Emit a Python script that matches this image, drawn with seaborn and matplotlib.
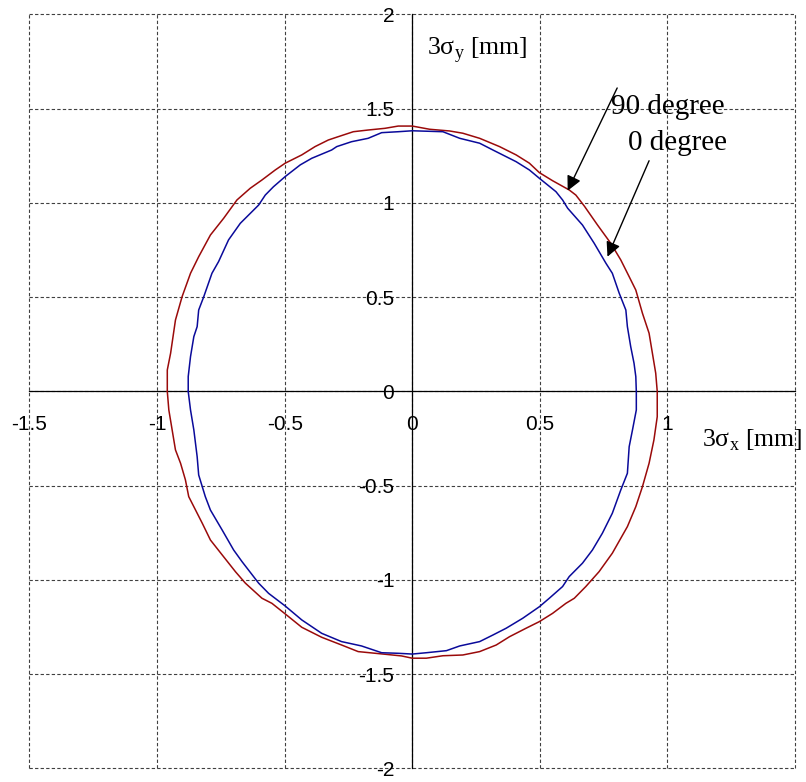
import numpy as np
import pandas as pd
import matplotlib
matplotlib.use("Agg")
import matplotlib.pyplot as plt
import seaborn as sns

# --------------------- Data ---------------------

# 90 degree curve (outer, dark red)
red_x = [-0.960, -0.960, -0.947, -0.928, -0.902, -0.869, -0.837, -0.791, -0.739, -0.687,
         -0.635, -0.589, -0.537, -0.498, -0.433, -0.381, -0.329, -0.296, -0.231, -0.173,
         -0.107, -0.055, 0.000,
         0.068, 0.146, 0.198, 0.264, 0.342, 0.407, 0.459, 0.498, 0.550, 0.615,
         0.641, 0.674, 0.726, 0.778, 0.817, 0.850, 0.876, 0.902, 0.928, 0.941,
         0.954, 0.960,
         0.960, 0.947, 0.928, 0.902, 0.876, 0.843, 0.784, 0.732, 0.680, 0.635,
         0.602, 0.550, 0.498, 0.446, 0.381, 0.329, 0.264, 0.198, 0.120, 0.055, 0.000,
         -0.042, -0.107, -0.212, -0.277, -0.355, -0.433, -0.498, -0.550, -0.589, -0.654,
         -0.693, -0.745, -0.791, -0.823, -0.876, -0.889, -0.908, -0.928, -0.941, -0.954,
         -0.960]
red_y = [0.000, 0.114, 0.203, 0.379, 0.503, 0.627, 0.715, 0.830, 0.919, 1.016,
         1.078, 1.122, 1.175, 1.211, 1.255, 1.299, 1.334, 1.349, 1.378, 1.387,
         1.396, 1.408, 1.408,
         1.391, 1.382, 1.370, 1.343, 1.299, 1.255, 1.211, 1.161, 1.118, 1.069,
         1.042, 0.984, 0.883, 0.786, 0.698, 0.609, 0.538, 0.415, 0.309, 0.203,
         0.097, 0.000,
         -0.134, -0.257, -0.381, -0.505, -0.611, -0.717, -0.858, -0.956, -1.035, -1.097,
         -1.124, -1.177, -1.221, -1.256, -1.301, -1.345, -1.380, -1.398, -1.402, -1.415, -1.415,
         -1.403, -1.394, -1.380, -1.345, -1.304, -1.251, -1.180, -1.124, -1.097, -1.017,
         -0.956, -0.867, -0.788, -0.699, -0.558, -0.469, -0.381, -0.310, -0.204, -0.098,
         0.000]

# 0 degree curve (inner, navy)
blue_x = [-0.878, -0.878, -0.869, -0.856, -0.843, -0.837, -0.817, -0.785, -0.759, -0.720,
          -0.674, -0.602, -0.576, -0.544, -0.498, -0.439, -0.394, -0.316, -0.296, -0.238,
          -0.173, -0.120, -0.055, 0.000,
          0.120, 0.186, 0.264, 0.316, 0.407, 0.459, 0.498, 0.563, 0.589, 0.609,
          0.667, 0.713, 0.759, 0.784, 0.811, 0.837, 0.843, 0.856, 0.869, 0.876, 0.878,
          0.878, 0.863, 0.850, 0.843, 0.817, 0.784, 0.745, 0.706, 0.667, 0.615,
          0.589, 0.537, 0.498, 0.433, 0.368, 0.316, 0.264, 0.186, 0.134, 0.055, 0.000,
          -0.055, -0.120, -0.199, -0.277, -0.355, -0.433, -0.498, -0.563, -0.602, -0.667,
          -0.700, -0.745, -0.791, -0.811, -0.837, -0.843, -0.856, -0.869, -0.878]
blue_y = [0.000, 0.079, 0.185, 0.291, 0.344, 0.432, 0.503, 0.627, 0.689, 0.804,
          0.892, 0.989, 1.042, 1.086, 1.140, 1.202, 1.237, 1.281, 1.299, 1.325,
          1.343, 1.373, 1.378, 1.383,
          1.378, 1.343, 1.317, 1.281, 1.219, 1.175, 1.131, 1.060, 1.016, 0.972,
          0.883, 0.786, 0.680, 0.627, 0.521, 0.432, 0.344, 0.238, 0.150, 0.079, 0.000,
          -0.098, -0.204, -0.293, -0.434, -0.523, -0.646, -0.752, -0.841, -0.911, -0.982,
          -1.035, -1.097, -1.142, -1.203, -1.256, -1.292, -1.327, -1.350, -1.375, -1.386, -1.393,
          -1.389, -1.386, -1.350, -1.327, -1.283, -1.212, -1.138, -1.071, -1.017, -0.903,
          -0.841, -0.735, -0.629, -0.558, -0.443, -0.346, -0.204, -0.098, 0.000]

x_ticks = [-1.5, -1.0, -0.5, 0.0, 0.5, 1.0, 1.5]
x_tick_labels = ["-1.5", "-1", "-0.5", "0", "0.5", "1", ""]
y_ticks = [-2.0, -1.5, -1.0, -0.5, 0.0, 0.5, 1.0, 1.5, 2.0]
y_tick_labels = ["-2", "-1.5", "-1", "-0.5", "0", "0.5", "1", "1.5", "2"]

df_red = pd.DataFrame({"x": red_x, "y": red_y})
df_blue = pd.DataFrame({"x": blue_x, "y": blue_y})

# --------------------- Style ---------------------

sns.set_theme(style="white")
plt.rcParams["font.family"] = ["Liberation Sans", "DejaVu Sans"]
plt.rcParams["mathtext.fontset"] = "custom"
plt.rcParams["mathtext.rm"] = "Liberation Serif"
plt.rcParams["axes.unicode_minus"] = False
plt.rcParams["text.color"] = "black"

fig = plt.figure(figsize=(8.06, 7.82), dpi=100)
ax = fig.add_axes([0.0366, 0.0173, 0.9498, 0.9642])

# --------------------- Curves ---------------------

sns.lineplot(data=df_red, x="x", y="y", sort=False, estimator=None,
             color="#9A0A0A", linewidth=1.1, ax=ax, zorder=3)
sns.lineplot(data=df_blue, x="x", y="y", sort=False, estimator=None,
             color="#0A0A9A", linewidth=1.1, ax=ax, zorder=3)

ax.set_xlim(-1.5, 1.5)
ax.set_ylim(-2, 2)
ax.set_xlabel("")
ax.set_ylabel("")

ax.set_xticks(x_ticks)
ax.set_xticklabels(x_tick_labels)
ax.set_yticks(y_ticks)
ax.set_yticklabels(y_tick_labels)

# axes crossing at the origin
ax.spines["left"].set_position("zero")
ax.spines["bottom"].set_position("zero")
ax.spines["top"].set_visible(False)
ax.spines["right"].set_visible(False)
for s in ["left", "bottom"]:
    ax.spines[s].set_color("black")
    ax.spines[s].set_linewidth(0.9)
    ax.spines[s].set_zorder(2)

ax.tick_params(axis="x", length=0, pad=17, labelsize=15, colors="black")
ax.tick_params(axis="y", length=0, pad=13, labelsize=15, colors="black")

ax.grid(True, linestyle=(0, (3, 2)), color="0.25", linewidth=0.8)
for gl in ax.get_xgridlines() + ax.get_ygridlines():
    gl.set_clip_on(False)
ax.set_axisbelow(True)

# --------------------- Labels and arrows ---------------------

serif = ["Liberation Serif", "DejaVu Serif"]
ax.text(0.057, 1.81, r"3σ$_{\mathrm{y}}$ [mm]", fontsize=18.5, family=serif,
        ha="left", va="center", color="black")
ax.text(1.135, -0.257, r"3σ$_{\mathrm{x}}$ [mm]", fontsize=18.5, family=serif,
        ha="left", va="center", clip_on=False, color="black")

ax.text(0.779, 1.509, "90 degree", fontsize=21, family=serif, ha="left", va="center",
        color="black")
ax.text(0.845, 1.318, "0 degree", fontsize=21, family=serif, ha="left", va="center",
        color="black")

arrow = dict(arrowstyle="-|>", color="black", lw=1.0, mutation_scale=22,
             shrinkA=0, shrinkB=0)
ax.annotate("", xy=(0.609, 1.065), xytext=(0.803, 1.61), arrowprops=arrow)
ax.annotate("", xy=(0.765, 0.715), xytext=(0.928, 1.224), arrowprops=arrow)

fig.savefig("out.png", dpi=100)
